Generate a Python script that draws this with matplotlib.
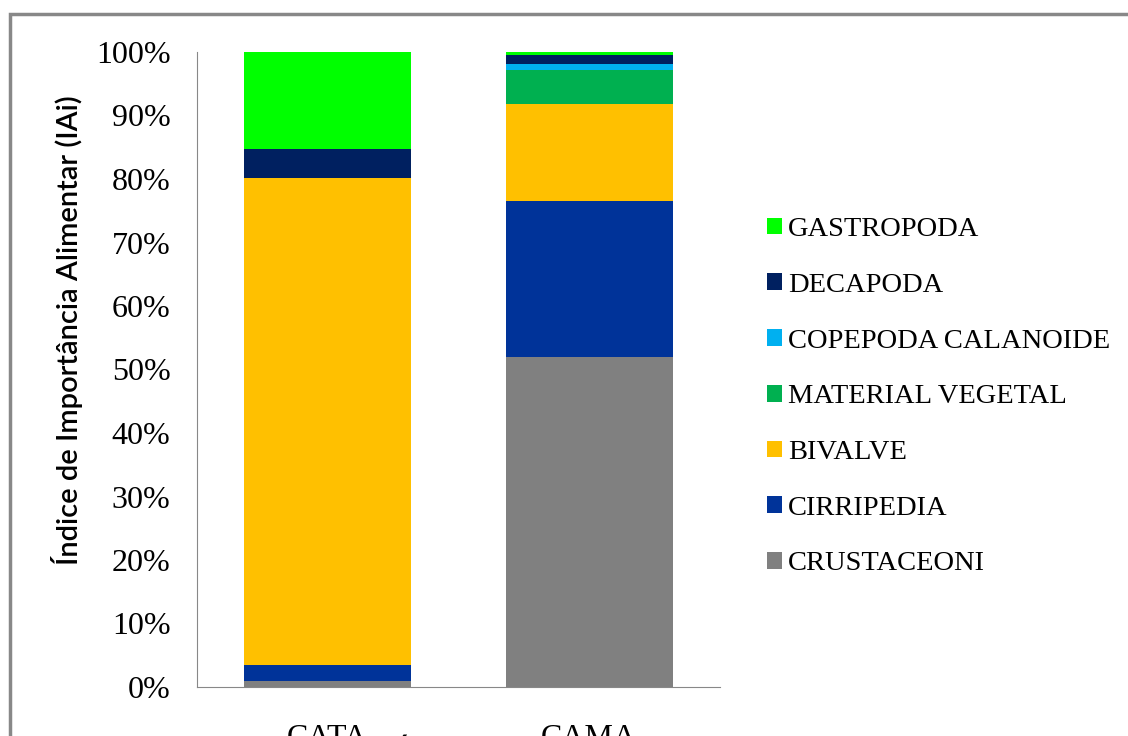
import matplotlib.pyplot as plt
from matplotlib.patches import Rectangle

locais = ['CATA', 'CAMA']
itens = ['CRUSTACEONI', 'CIRRIPEDIA', 'BIVALVE', 'MATERIAL VEGETAL',
         'COPEPODA CALANOIDE', 'DECAPODA', 'GASTROPODA']
cores = ['#808080', '#003399', '#FFC000', '#00B050', '#00B0F0', '#002060', '#00FF00']

# percent of IAi per station, bottom to top
cata = [1.0, 2.5, 76.7, 0.0, 0.0, 4.5, 15.3]
cama = [52.0, 24.6, 15.2, 5.3, 1.0, 1.4, 0.5]

serif = 'Liberation Serif'

fig = plt.figure(figsize=(11.28, 7.36), dpi=100)
ax = fig.add_axes([197 / 1128, 1 - 687 / 736, 523 / 1128, 635 / 736])

x = range(len(locais))
base = [0.0, 0.0]
handles = []
for i, nome in enumerate(itens):
    vals = [cata[i] / 100, cama[i] / 100]
    b = ax.bar(x, vals, 0.64, bottom=base, color=cores[i], label=nome)
    handles.append(b)
    base = [base[0] + vals[0], base[1] + vals[1]]

ax.set_xlim(-0.5, 1.5)
ax.set_ylim(0, 1)
ax.set_yticks([k / 10 for k in range(11)])
ax.set_yticklabels([f'{k * 10}%' for k in range(11)], fontfamily=serif, fontsize=23)
ax.set_xticks(list(x))
ax.set_xticklabels(locais, fontfamily=serif, fontsize=23)
ax.tick_params(axis='y', length=0, pad=19)
ax.tick_params(axis='x', length=0, pad=27)
for s in ['top', 'right']:
    ax.spines[s].set_visible(False)
ax.spines['left'].set_color('#888888')
ax.spines['bottom'].set_color('#888888')

fig.text(67 / 1128, 1 - 330 / 736, 'Índice de Importância Alimentar (IAi)',
         rotation=90, ha='center', va='center', fontsize=21, family='Lato',
         fontweight='semibold')

leg = fig.legend(handles[::-1], itens[::-1], loc='upper left',
                 bbox_to_anchor=(767 / 1128, 1 - 217 / 736),
                 frameon=False, prop={'family': serif, 'size': 20.5},
                 handlelength=0.53, handleheight=0.53, handletextpad=0.2,
                 labelspacing=1.08, borderpad=0, borderaxespad=0)

# outer chart-area border, cut at right and bottom
fig.patches.append(Rectangle((10 / 1128, -0.1), 1.2, 1 - 13.5 / 736 + 0.1,
                             transform=fig.transFigure, fill=False,
                             edgecolor='#888888', linewidth=2.5))

fig.text(402 / 1128, 1 - 762 / 736, 'Á', fontsize=23, family=serif,
         ha='center', va='baseline')

fig.savefig('out.png', dpi=100)
